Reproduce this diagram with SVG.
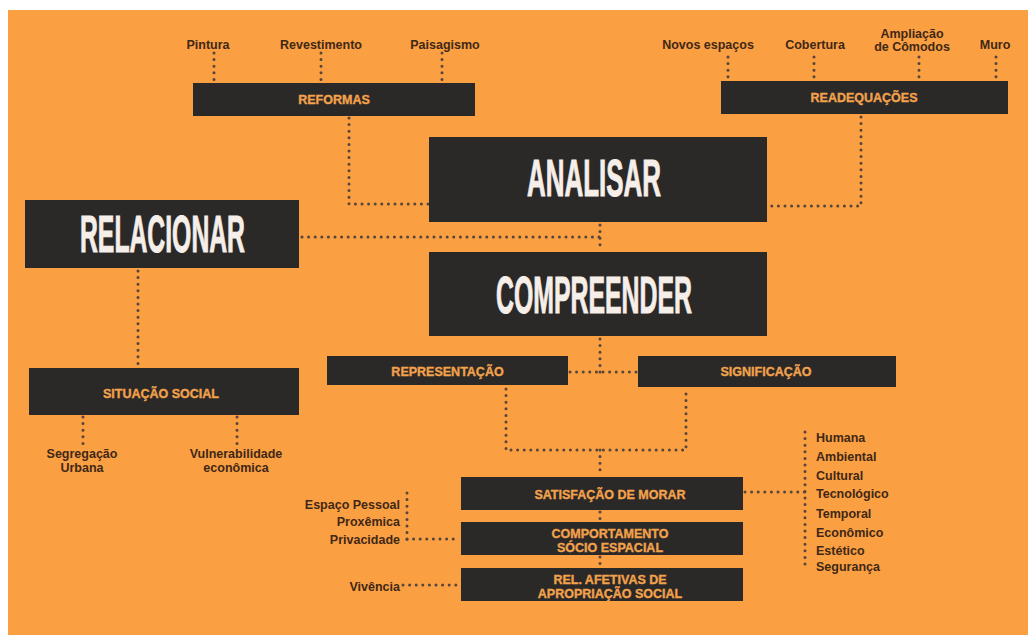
<svg xmlns="http://www.w3.org/2000/svg" width="1028" height="635" viewBox="0 0 1028 635">
<style>
.bg{fill:#FB9F43}
.box{fill:#2A2928}
.big{font-family:"Liberation Sans",Arial,sans-serif;font-weight:bold;font-size:51px;fill:#F6EEE8;stroke:#F6EEE8;stroke-width:1;text-anchor:middle}
.bt{font-family:"Liberation Sans",Arial,sans-serif;font-weight:bold;font-size:12.5px;fill:#F3A24C;stroke:#F3A24C;stroke-width:0.35;text-anchor:middle}
.lb{font-family:"Liberation Sans",Arial,sans-serif;font-weight:bold;font-size:12.5px;fill:#3F2816;text-anchor:middle}
.lr{text-anchor:end}
.ll{text-anchor:start}
.dot{fill:none;stroke:#55453A;stroke-width:3;stroke-linecap:round;stroke-dasharray:0 6.6}
</style>
<rect x="0" y="0" width="1028" height="635" fill="#FFFFFF"/>
<rect class="bg" x="8" y="10" width="1020" height="625"/>
<g id="connectors">
<path class="dot" d="M214 53V80"/>
<path class="dot" d="M321 53V80"/>
<path class="dot" d="M442 53V80"/>
<path class="dot" d="M728 57V78"/>
<path class="dot" d="M814 57V78"/>
<path class="dot" d="M919 57V78"/>
<path class="dot" d="M996 57V78"/>
<path class="dot" d="M349 118V204H428"/>
<path class="dot" d="M861 117V206H769"/>
<path class="dot" d="M302 237H600"/>
<path class="dot" d="M600 225V250"/>
<path class="dot" d="M600 339V372"/>
<path class="dot" d="M570 372H636"/>
<path class="dot" d="M506 389V450H686V390"/>
<path class="dot" d="M600 450V476"/>
<path class="dot" d="M600 512V521"/>
<path class="dot" d="M600 557V567"/>
<path class="dot" d="M745 492H805"/>
<path class="dot" d="M805 432V570"/>
<path class="dot" d="M407 493V544"/>
<path class="dot" d="M407 539H459"/>
<path class="dot" d="M403 585H459"/>
<path class="dot" d="M138 271V366"/>
<path class="dot" d="M83 417V445"/>
<path class="dot" d="M237 417V445"/>
</g>
<g id="analisar"><rect class="box" x="429" y="137" width="338" height="85"/><text class="big" x="594" y="196" textLength="134" lengthAdjust="spacingAndGlyphs">ANALISAR</text></g>
<g id="compreender"><rect class="box" x="429" y="252" width="338" height="84"/><text class="big" x="594" y="313" textLength="196" lengthAdjust="spacingAndGlyphs">COMPREENDER</text></g>
<g id="relacionar"><rect class="box" x="25" y="200" width="274" height="68"/><text class="big" x="162.5" y="252" textLength="165" lengthAdjust="spacingAndGlyphs">RELACIONAR</text></g>
<g id="reformas"><rect class="box" x="193" y="83" width="282" height="33"/><text class="bt" x="334" y="103.5">REFORMAS</text></g>
<g id="readequacoes"><rect class="box" x="721" y="81" width="287" height="33"/><text class="bt" x="864" y="102">READEQUAÇÕES</text></g>
<g id="situacao"><rect class="box" x="29" y="368" width="270" height="47"/><text class="bt" x="161" y="397.5">SITUAÇÃO SOCIAL</text></g>
<g id="representacao"><rect class="box" x="327" y="356" width="241" height="29"/><text class="bt" x="447.5" y="375.5">REPRESENTAÇÃO</text></g>
<g id="significacao"><rect class="box" x="638" y="356" width="258" height="31"/><text class="bt" x="766" y="376">SIGNIFICAÇÃO</text></g>
<g id="satisfacao"><rect class="box" x="461" y="477" width="282" height="33"/><text class="bt" x="610" y="498.5">SATISFAÇÃO DE MORAR</text></g>
<g id="comportamento"><rect class="box" x="461" y="522" width="282" height="33"/><text class="bt" x="610" y="537.5">COMPORTAMENTO</text><text class="bt" x="610" y="551.5">SÓCIO ESPACIAL</text></g>
<g id="relafetivas"><rect class="box" x="461" y="568" width="282" height="33"/><text class="bt" x="610" y="583.5">REL. AFETIVAS DE</text><text class="bt" x="610" y="597.5">APROPRIAÇÃO SOCIAL</text></g>
<g id="labels-reformas">
<text class="lb" x="208" y="49">Pintura</text>
<text class="lb" x="321" y="49">Revestimento</text>
<text class="lb" x="445" y="49">Paisagismo</text>
</g>
<g id="labels-readequacoes">
<text class="lb" x="708" y="49">Novos espaços</text>
<text class="lb" x="815" y="49">Cobertura</text>
<text class="lb" x="912" y="38">Ampliação</text>
<text class="lb" x="912" y="50.5">de Cômodos</text>
<text class="lb" x="995" y="48.5">Muro</text>
</g>
<g id="labels-situacao">
<text class="lb" x="82" y="457.5">Segregação</text>
<text class="lb" x="82" y="471.5">Urbana</text>
<text class="lb" x="236" y="457.5">Vulnerabilidade</text>
<text class="lb" x="236" y="471.5">econômica</text>
</g>
<g id="labels-comportamento">
<text class="lb lr" x="400" y="508.5">Espaço Pessoal</text>
<text class="lb lr" x="400" y="525.5">Proxêmica</text>
<text class="lb lr" x="400" y="543.5">Privacidade</text>
<text class="lb lr" x="400" y="590.5">Vivência</text>
</g>
<g id="labels-satisfacao">
<text class="lb ll" x="816" y="441.5">Humana</text>
<text class="lb ll" x="816" y="461">Ambiental</text>
<text class="lb ll" x="816" y="479.5">Cultural</text>
<text class="lb ll" x="816" y="497.5">Tecnológico</text>
<text class="lb ll" x="816" y="518">Temporal</text>
<text class="lb ll" x="816" y="537">Econômico</text>
<text class="lb ll" x="816" y="555">Estético</text>
<text class="lb ll" x="816" y="570.5">Segurança</text>
</g>
</svg>
